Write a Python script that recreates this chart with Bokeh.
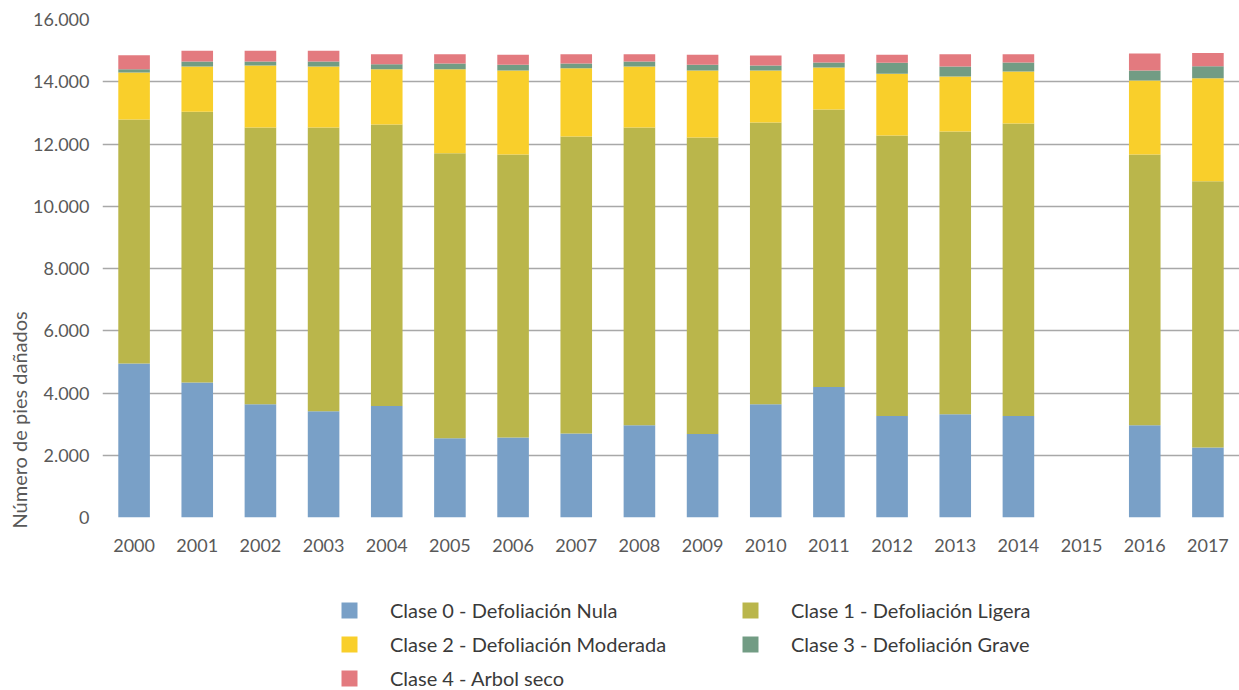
from bokeh.plotting import figure
from bokeh.layouts import column
from bokeh.models import (FactorRange, Range1d, FixedTicker, CustomJSTickFormatter,
                          Legend, LegendItem, Title, ColumnDataSource)
from bokeh.embed import file_html
from bokeh.resources import INLINE

years = [str(y) for y in range(2000, 2018)]
clase0 = [4950, 4340, 3640, 3410, 3580, 2550, 2570, 2700, 2960, 2680, 3640, 4190, 3260, 3320, 3260, 0, 2960, 2250]
clase1 = [7840, 8700, 8890, 9120, 9050, 9150, 9090, 9540, 9570, 9530, 9050, 8920, 9010, 9080, 9400, 0, 8700, 8550]
clase2 = [1510, 1450, 1990, 1960, 1770, 2700, 2700, 2190, 1960, 2150, 1670, 1350, 1990, 1770, 1670, 0, 2380, 3310]
clase3 = [100, 160, 130, 160, 160, 190, 190, 160, 160, 190, 160, 160, 350, 320, 290, 0, 320, 390]
clase4 = [450, 350, 350, 350, 320, 290, 320, 290, 230, 320, 320, 260, 260, 390, 260, 0, 550, 420]

series_names = ["Clase 0 - Defoliación Nula", "Clase 1 - Defoliación Ligera",
                "Clase 2 - Defoliación Moderada", "Clase 3 - Defoliación Grave",
                "Clase 4 - Arbol seco"]
colors = ["#79A0C7", "#BAB64B", "#F9CF2B", "#729C84", "#E37A7F"]
y_ticks = list(range(0, 16001, 2000))
y_axis_title = "Número de pies dañados"

keys = ["c0", "c1", "c2", "c3", "c4"]
source = ColumnDataSource(dict(year=years, c0=clase0, c1=clase1, c2=clase2, c3=clase3, c4=clase4))

FONT = "Lato"

p = figure(x_range=FactorRange(factors=years), y_range=Range1d(0, 16000),
           width=1239, height=560, output_backend="svg", toolbar_location=None,
           min_border_left=102, min_border_right=0, min_border_top=19, min_border_bottom=43)

p.vbar_stack(keys, x="year", width=0.5, color=colors, line_color=None, source=source)

p.outline_line_color = None
p.xgrid.grid_line_color = None
p.ygrid.ticker = FixedTicker(ticks=y_ticks[1:])
p.ygrid.grid_line_color = "#A8A8A8"
p.ygrid.grid_line_width = 1.5

p.yaxis.ticker = FixedTicker(ticks=y_ticks)
p.yaxis.formatter = CustomJSTickFormatter(code=r"return tick.toString().replace(/\B(?=(\d{3})+(?!\d))/g, '.');")
for ax in (p.xaxis, p.yaxis):
    ax.axis_line_color = None
    ax.major_tick_line_color = None
    ax.minor_tick_line_color = None
    ax.major_label_text_font = FONT
    ax.major_label_text_font_size = "18px"
    ax.major_label_text_color = "#595959"
p.yaxis.major_label_standoff = 7
p.xaxis.major_label_standoff = 15

ytitle = Title(text=y_axis_title, align="left", offset=-11, standoff=0,
               text_font=FONT, text_font_size="20px", text_font_style="normal",
               text_color="#595959")
p.add_layout(ytitle, "left")

# Legend in a strip below the chart (same bars, hidden, used only as legend swatches)
lg = figure(x_range=p.x_range, y_range=Range1d(-200000, -100000), width=1239, height=130,
            output_backend="svg", toolbar_location=None,
            x_axis_location=None, y_axis_location=None,
            min_border_left=0, min_border_right=0, min_border_top=0, min_border_bottom=0)
lg.outline_line_color = None
lg.xgrid.grid_line_color = None
lg.ygrid.grid_line_color = None
swatches = lg.vbar_stack(keys, x="year", width=0.5, color=colors, line_color=None, source=source)
for r in swatches:
    r.visible = False

items = [LegendItem(label=n, renderers=[r]) for n, r in zip(series_names, swatches)]
legend = Legend(items=items, location=(237, 0), orientation="horizontal", ncols=2,
                glyph_width=20, glyph_height=20, label_height=20, label_width=340,
                label_standoff=31, spacing=10, padding=0, margin=0,
                inactive_fill_alpha=0,
                border_line_color=None, background_fill_alpha=0,
                label_text_font=FONT, label_text_font_size="20px", label_text_color="#3A3A3A")
lg.add_layout(legend, "center")

layout = column(p, lg, spacing=0)
open("out.html", "w").write(file_html(layout, INLINE))
